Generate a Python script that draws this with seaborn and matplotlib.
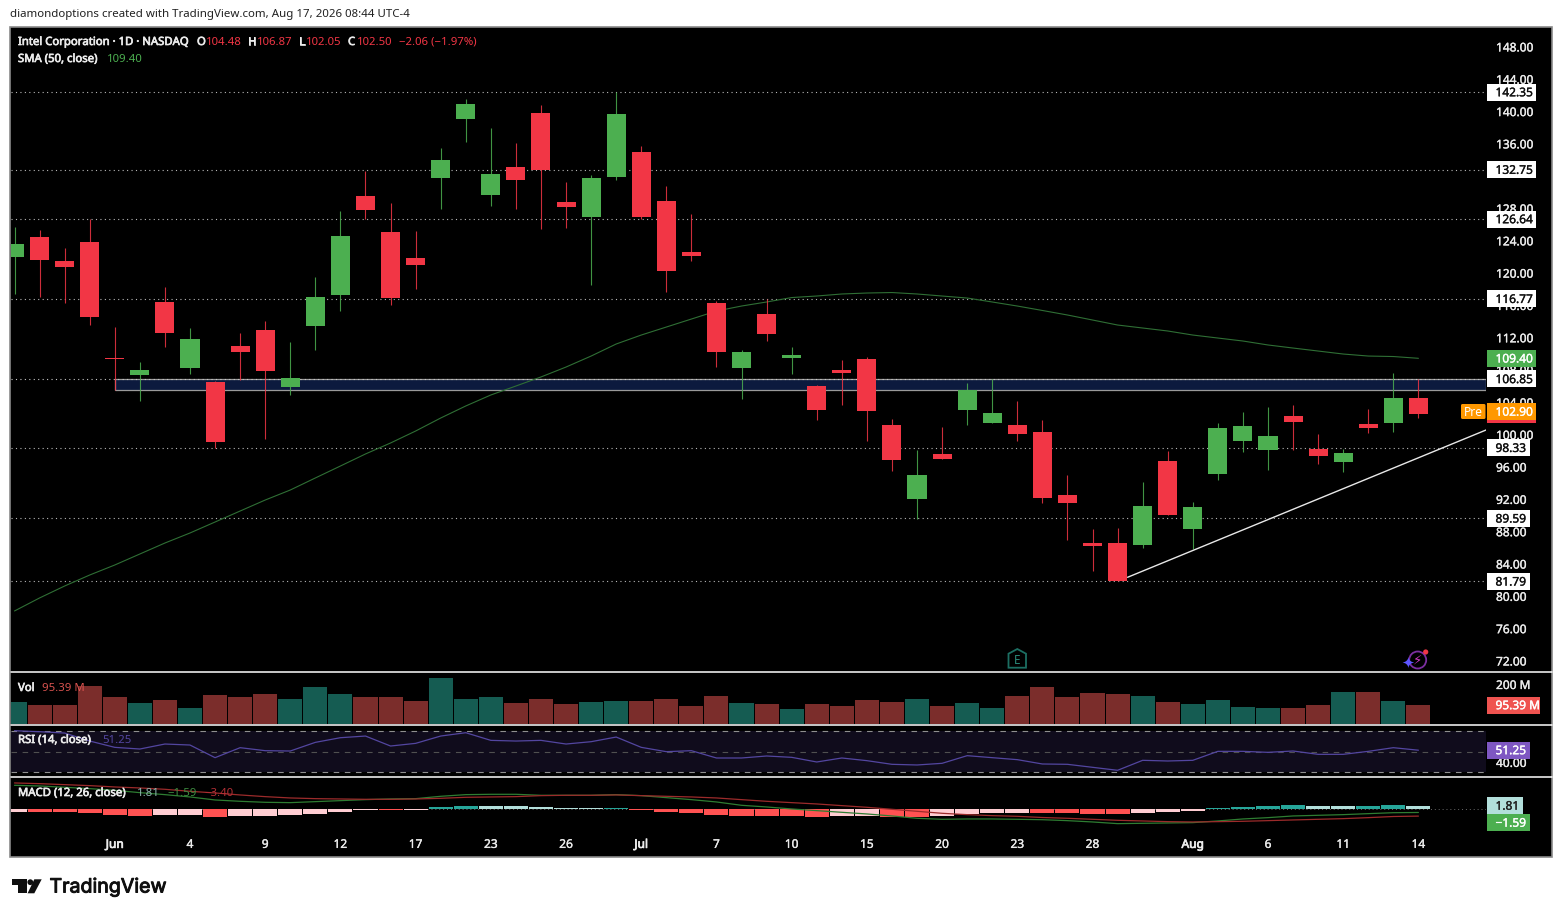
import numpy as np
import pandas as pd
import matplotlib
matplotlib.use('Agg')
import matplotlib.pyplot as plt
import matplotlib.patheffects as pe
from matplotlib.patches import Rectangle, Polygon, Circle, FancyBboxPatch
import seaborn as sns

# Candles, one value per session
opens = [121.97, 124.41, 121.44, 123.79, 109.44, 107.37, 116.37, 108.24, 106.47, 110.89,
         112.90, 105.89, 113.43, 117.27, 129.49, 125.03, 121.81, 131.75, 139.05, 129.65,
         133.04, 139.76, 128.74, 126.92, 131.87, 134.93, 128.87, 122.59, 116.24, 108.24,
         114.88, 109.47, 105.97, 107.95, 109.31, 101.15, 92.02, 97.56, 103.04, 101.43,
         101.15, 100.28, 92.48, 86.54, 86.54, 86.33, 96.69, 88.27, 95.12, 99.20,
         98.09, 102.26, 98.18, 96.60, 101.27, 101.43, 104.48]
closes = [123.55, 121.57, 120.70, 114.55, 109.34, 107.95, 112.57, 111.79, 99.08, 110.22,
          107.87, 106.96, 116.99, 124.54, 127.75, 116.90, 120.98, 133.94, 140.87, 132.21,
          131.47, 132.74, 128.16, 131.71, 139.63, 126.92, 120.24, 122.10, 110.22, 110.18,
          112.45, 109.81, 103.04, 107.58, 102.92, 96.81, 94.96, 96.97, 105.44, 102.63,
          100.03, 92.15, 91.53, 86.17, 81.79, 91.12, 90.04, 91.00, 100.77, 101.02,
          99.78, 101.52, 97.35, 97.68, 100.81, 104.49, 102.50]
highs = [125.61, 125.28, 123.05, 126.60, 113.31, 108.91, 118.19, 113.11, 106.59, 112.49,
         114.02, 111.42, 119.42, 127.59, 132.58, 128.58, 125.15, 135.39, 141.49, 137.87,
         136.01, 140.71, 131.22, 132.05, 142.32, 135.67, 130.72, 127.22, 116.49, 110.39,
         116.74, 110.80, 106.10, 109.19, 109.52, 101.89, 98.05, 100.86, 106.34, 106.80,
         104.12, 101.76, 94.96, 88.24, 88.40, 94.09, 97.93, 91.62, 101.36, 102.75,
         103.37, 103.62, 100.03, 98.21, 103.13, 107.58, 106.87]
lows = [117.36, 116.99, 116.28, 113.56, 105.48, 104.12, 110.84, 107.49, 98.30, 106.68,
        99.45, 104.90, 110.46, 115.29, 126.64, 116.03, 118.01, 127.88, 136.21, 128.29,
        127.88, 125.44, 125.56, 118.51, 131.50, 126.68, 117.64, 121.48, 108.36, 104.36,
        111.58, 107.49, 101.76, 103.66, 99.17, 95.45, 89.51, 96.97, 101.15, 101.43,
        99.17, 91.49, 86.91, 83.08, 81.79, 85.92, 90.04, 85.80, 94.34, 97.84,
        95.61, 98.09, 96.32, 95.37, 100.16, 100.32, 102.05]
sma50 = [78.13, 79.74, 81.22, 82.58, 83.82, 85.18, 86.54, 87.78, 89.14, 90.50,
         91.86, 93.10, 94.59, 96.07, 97.56, 98.92, 100.40, 102.01, 103.50, 104.86,
         105.97, 107.09, 108.32, 109.68, 111.17, 112.28, 113.27, 114.26, 115.25, 115.87,
         116.37, 116.92, 117.11, 117.36, 117.48, 117.54, 117.36, 117.11, 116.86, 116.37,
         115.87, 115.32, 114.76, 114.14, 113.52, 113.15, 112.78, 112.28, 111.91, 111.54,
         111.05, 110.67, 110.30, 109.93, 109.68, 109.62, 109.40]

# Volume in millions
volume = [110, 95, 97, 190, 135, 105, 120, 80, 143, 135,
          150, 125, 183, 150, 135, 135, 115, 228, 123, 135,
          103, 123, 100, 110, 115, 115, 125, 90, 140, 105,
          100, 75, 100, 90, 120, 110, 125, 90, 105, 80,
          140, 185, 135, 153, 148, 138, 108, 98, 122, 83,
          78, 78, 97, 158, 158, 113, 95.39]

rsi = [70, 69.04, 67.76, 60.08, 54, 52.4, 57.2, 56.24, 44.08, 53.68,
       50.8, 50.48, 58.8, 63.28, 64.88, 55.28, 57.84, 64.88, 68.08, 60.72,
       60.08, 60.72, 57.2, 59.44, 63.92, 54, 49.84, 50.8, 43.76, 43.76,
       45.68, 44.4, 39.92, 43.76, 41.2, 37.68, 37.04, 38.64, 46, 44.08,
       42.16, 38, 37.68, 34.8, 31.92, 41.52, 40.88, 41.52, 50.16, 50.16,
       49.2, 50.48, 47.28, 47.28, 50.16, 53.68, 51.25]

macd_line = [12, 11.67, 11, 10.33, 9.5, 8.33, 7.33, 6.17, 4.67, 4,
             3.5, 3.33, 3.83, 4.33, 4.83, 5.17, 5.33, 6.5, 7.33, 7.5,
             7.5, 7, 7, 7, 7.33, 6.83, 5.83, 4.83, 3.67, 2,
             1.17, 0.17, -0.67, -1.5, -2.33, -3.33, -4.5, -5, -4.83, -4.83,
             -5, -5.2, -5.67, -6.33, -7.17, -7, -6.83, -6.67, -5.83, -4.83,
             -4.17, -3.33, -3, -2.67, -2.17, -1.7, -1.59]
macd_signal = [13.17, 12.83, 12.33, 11.83, 11.17, 10.67, 10, 9, 8.17, 7.17,
               6.33, 5.67, 5.33, 5.17, 5, 5, 5.17, 5.5, 6, 6.17,
               6.33, 6.83, 7, 7, 7.17, 6.83, 6.5, 6.17, 5.67, 4.83,
               4, 3.33, 2.67, 1.83, 1, 0, -1, -2, -2.67, -3.17,
               -3.5, -4.1, -4.5, -5, -5.5, -5.83, -6.17, -6.33, -6.17, -6,
               -5.67, -5.33, -5, -4.67, -4.17, -3.6, -3.40]
macd_hist = [-1.33, -1.5, -1.5, -2, -3, -3.5, -3, -3, -4, -3.5,
             -3.5, -3, -2.5, -1.5, -0.5, -0.3, -0.3, 1, 1.5, 1.5,
             1.5, 1, 0.6, 0.6, 0.5, -0.3, -1.5, -2, -3, -3.5,
             -3.5, -3.5, -4, -3.5, -3.5, -4, -4, -3.5, -2.5, -2,
             -2, -2, -2, -2.3, -2.3, -1.8, -1.5, -0.8, 0.8, 1.2,
             1.7, 2.1, 1.7, 1.7, 1.8, 2.1, 1.81]
hist_kind = ['dl', 'ds', 'ds', 'ds', 'ds', 'ds', 'dl', 'dl', 'ds', 'dl',
             'dl', 'dl', 'dl', 'dl', 'dl', 'ds', 'dl', 'us', 'us', 'ul',
             'ul', 'ul', 'ul', 'ul', 'us', 'ds', 'ds', 'ds', 'ds', 'ds',
             'ds', 'ds', 'ds', 'dl', 'dl', 'ds', 'ds', 'dl', 'dl', 'dl',
             'dl', 'ds', 'ds', 'ds', 'ds', 'dl', 'dl', 'dl', 'us', 'us',
             'us', 'us', 'ul', 'ul', 'us', 'us', 'ul']

# Axis labels and drawings on the chart
date_idx = [4, 7, 10, 13, 16, 19, 22, 25, 28, 31, 34, 37, 40, 43, 47, 50, 53, 56]
date_labels = ['Jun', '4', '9', '12', '17', '23', '26', 'Jul', '7', '10', '15', '20', '23', '28', 'Aug', '6', '11', '14']
price_ticks = [148, 144, 140, 136, 128, 124, 120, 116, 112, 108, 104, 100, 96, 92, 88, 84, 80, 76, 72]
levels = [142.35, 132.75, 126.64, 116.77, 98.33, 89.59, 81.79]
zone_top = 106.85
zone_bottom = 105.48
zone_start = 4
trend_x = [44.4, 58.7]
trend_y = [82.3, 100.53]

# Colours
GREEN = '#4caf50'
RED = '#f23645'
TEXT = '#ececec'
FS = 8.6
hist_colors = {'us': '#26a69a', 'ul': '#b2dfdb', 'ds': '#ff5252', 'dl': '#ffcdd2'}
vol_colors = {'up': '#155c52', 'down': '#7b2d2b'}

sns.set_theme(style='dark')
plt.rcParams['font.family'] = ['Noto Sans', 'DejaVu Sans']
plt.rcParams['font.size'] = FS

W, H = 1562, 917
fig = plt.figure(figsize=(W / 100, H / 100), dpi=100, facecolor='white')


def px_axes(left, top, right, bottom):
    return fig.add_axes([left / W, 1 - bottom / H, (right - left) / W, (bottom - top) / H])


def heavier(text, color, width=0.35):
    text.set_path_effects([pe.withStroke(linewidth=width, foreground=color)])


# Black panel behind everything
fig.add_artist(Rectangle((10 / W, 1 - 857 / H), 1542 / W, 830 / H, transform=fig.transFigure,
                         facecolor='black', edgecolor='#8a8a8a', linewidth=1.2, zorder=-5))

idx = np.arange(len(closes))
x_min = (11 - 14.5) / 25.07
x_max = (1486 - 14.5) / 25.07
is_up = np.array(closes) >= np.array(opens)


def style_pane(ax, ymin, ymax, ticks, tick_labels):
    ax.set_facecolor('black')
    ax.patch.set_alpha(0)
    for spine in ax.spines.values():
        spine.set_visible(False)
    ax.set_xlim(x_min, x_max)
    ax.set_ylim(ymin, ymax)
    ax.set_xlabel('')
    ax.set_ylabel('')
    ax.set_xticks([])
    ax.yaxis.tick_right()
    ax.set_yticks(ticks)
    ax.set_yticklabels(tick_labels)
    ax.tick_params(axis='y', length=0, pad=7.2, colors=TEXT, labelsize=FS)
    for label in ax.get_yticklabels():
        heavier(label, TEXT, 0.25)
    ax.grid(False)


# Price pane
ax = px_axes(11, 28, 1486, 671)
for level in levels:
    ax.axhline(level, color='#b8b8b8', linewidth=0.8, linestyle=(0, (1, 3)), zorder=1)
ax.add_patch(Rectangle((zone_start, zone_bottom), x_max - zone_start, zone_top - zone_bottom,
                       facecolor='#0c1a3e', edgecolor='#9a9a9a', linewidth=0.9, zorder=1.2))
ax.hlines(zone_top, x_min, x_max, color='#c8c8c8', linewidth=0.8, linestyle=(0, (1, 3)), zorder=1.3)
sns.lineplot(x=idx, y=sma50, ax=ax, color='#2f6f35', linewidth=0.8, zorder=2)
colors = [GREEN if up else RED for up in is_up]
ax.vlines(idx, lows, highs, colors=colors, linewidth=0.8, alpha=0.85, zorder=3)
ax.bar(idx, np.abs(np.array(closes) - np.array(opens)), bottom=np.minimum(opens, closes),
       width=0.76, color=colors, linewidth=0, zorder=4)
ax.plot(trend_x, trend_y, color='#e8e8e8', linewidth=1, zorder=5)
style_pane(ax, 70.70, 150.28, price_ticks, ['%.2f' % t for t in price_ticks])

# Volume pane
ax_vol = px_axes(11, 674, 1486, 724)
vol_df = pd.DataFrame({'idx': idx, 'volume': volume, 'side': ['up' if up else 'down' for up in is_up]})
sns.barplot(data=vol_df, x='idx', y='volume', hue='side', palette=vol_colors, native_scale=True,
            dodge=False, width=0.96, saturation=1, errorbar=None, legend=False, ax=ax_vol, linewidth=0)
style_pane(ax_vol, 0, 250, [200], ['200 M'])

# RSI pane
ax_rsi = px_axes(11, 725, 1486, 776)
ax_rsi.axhspan(30, 70, color='#100c1c', zorder=0, linewidth=0)
ax_rsi.axhline(70, color='#8f8f8f', linewidth=0.8, linestyle=(0, (5, 5)))
ax_rsi.axhline(50, color='#505050', linewidth=0.8, linestyle=(0, (5, 5)))
ax_rsi.axhline(30, color='#8f8f8f', linewidth=0.8, linestyle=(0, (5, 5)))
sns.lineplot(x=idx, y=rsi, ax=ax_rsi, color='#5346a0', linewidth=0.9)
style_pane(ax_rsi, 26.44, 75.5, [40], ['40.00'])

# MACD pane, zero at y=809.3 and 2 px per unit
ax_macd = px_axes(11, 778, 1486, 833)
macd_df = pd.DataFrame({'idx': idx, 'hist': macd_hist, 'kind': hist_kind})
sns.barplot(data=macd_df, x='idx', y='hist', hue='kind', palette=hist_colors, native_scale=True,
            dodge=False, width=0.96, saturation=1, errorbar=None, legend=False, ax=ax_macd, linewidth=0)
ax_macd.axhline(0, color='#6a6a6a', linewidth=0.7, linestyle=(0, (1, 3)), zorder=0)
sns.lineplot(x=idx, y=macd_line, ax=ax_macd, color='#2e7d32', linewidth=0.9)
sns.lineplot(x=idx, y=macd_signal, ax=ax_macd, color='#9c2b2b', linewidth=0.9)
style_pane(ax_macd, -11.85, 15.65, [0], ['0.00'])
ax_macd.set_xticks(date_idx)
ax_macd.set_xticklabels(date_labels)
ax_macd.tick_params(axis='x', length=0, pad=3.5, colors=TEXT, labelsize=FS)
for label, text in zip(ax_macd.get_xticklabels(), date_labels):
    heavier(label, TEXT, 0.55 if not text.isdigit() else 0.25)

# Everything else goes on a pixel overlay
over = fig.add_axes([0, 0, 1, 1], zorder=10)
over.set_xlim(0, W)
over.set_ylim(H, 0)
over.axis('off')
over.patch.set_alpha(0)

# Pane separators
for sep_y in [672, 724.5, 777]:
    over.plot([11, 1551.5], [sep_y, sep_y], color='white', linewidth=1.1, zorder=1)


def price_y(price):
    return 660.5 - (price - 72) * 8.08


def badge(y, text, bg, fg, left=1487, right=1536, h=17):
    over.add_patch(Rectangle((left, y - h / 2), right - left, h, facecolor=bg, edgecolor='none', zorder=3))
    t = over.text(left + 8.5, y + 0.7, text, color=fg, va='center', ha='left', fontsize=FS, zorder=4)
    heavier(t, fg, 0.25)


for level, right in zip(levels, [1536, 1536, 1536, 1536, 1530, 1530, 1530]):
    badge(price_y(level), '%.2f' % level, 'white', '#111111', right=right)
badge(price_y(106.85), '106.85', 'white', '#111111')
badge(price_y(109.40), '109.40', GREEN, 'white')
over.add_patch(Rectangle((1487, 406), 49, 17, facecolor=RED, edgecolor='none', zorder=3))
badge(411.5, '102.90', '#ff9800', 'white')
over.add_patch(FancyBboxPatch((1461, 404), 24.5, 15, boxstyle='round,pad=0,rounding_size=1.5',
                              facecolor='#ff9800', edgecolor='none', zorder=3))
over.text(1473, 412, 'Pre', color='white', va='center', ha='center', fontsize=FS, zorder=4)
badge(705, '95.39 M', '#ef5350', 'white', right=1540)
badge(750, '51.25', '#7e57c2', 'white', right=1530)
badge(805.5, '1.81', '#b2dfdb', '#222222', right=1523)
badge(822.5, '\u22121.59', GREEN, 'white', right=1530)

# Legend lines and credit
credit = 'diamondoptions created with TradingView.com, Aug 17, 2026 08:44 UTC-4'
over.text(10, 14.5, credit, color='#222222', va='center', ha='left', fontsize=8.27)
legend_parts = [
    (18, 42, 'Intel Corporation \u00b7 1D \u00b7 NASDAQ', TEXT, True),
    (197, 42, 'O', TEXT, True), (206, 42, '104.48', RED, False),
    (248, 42, 'H', TEXT, True), (257, 42, '106.87', RED, False),
    (299, 42, 'L', TEXT, True), (306, 42, '102.05', RED, False),
    (348, 42, 'C', TEXT, True), (357, 42, '102.50', RED, False),
    (399, 42, '\u22122.06 (\u22121.97%)', RED, False),
    (18, 59, 'SMA (50, close)', TEXT, True), (107, 59, '109.40', GREEN, False),
    (18, 688, 'Vol', TEXT, True), (42, 688, '95.39 M', '#d9534f', False),
    (18, 740, 'RSI (14, close)', TEXT, True), (102, 740, '51.25', '#5346a0', False),
    (18, 793, 'MACD (12, 26, close)', TEXT, True), (137, 793, '1.81', '#8fb5b0', False),
    (167, 793, '\u22121.59', '#3e8e41', False), (204, 793, '\u22123.40', '#b32f35', False),
]
for tx, ty, text, color, bold in legend_parts:
    t = over.text(tx, ty + 0.5, text, color=color, va='center', ha='left', fontsize=8.16, zorder=5)
    if bold:
        heavier(t, color, 0.5)

# Earnings marker
over.add_patch(Polygon([(1017.3, 649), (1026, 653.7), (1026, 667.7), (1008.5, 667.7), (1008.5, 653.7)],
                       facecolor='none', edgecolor='#1c6e62', linewidth=1.3, zorder=5))
over.text(1017.3, 660, 'E', color='#2a8a7a', va='center', ha='center', fontsize=8.5, zorder=5)

# Lightning marker
over.add_patch(Circle((1417.7, 660), 8.5, facecolor='none', edgecolor='#7b2fa0', linewidth=1.3, zorder=5))
over.text(1418, 660, '\u26a1', color='#d23bc8', va='center', ha='center', fontsize=9.5,
          family='DejaVu Sans', zorder=6)
over.text(1407.7, 663.3, '\u2726', color='#5d55ff', va='center', ha='center', fontsize=11,
          family='DejaVu Sans', zorder=6)
over.add_patch(Circle((1425.7, 652), 2.6, facecolor='#f23645', edgecolor='none', zorder=7))

# TradingView logo
logo = '#0f0f0f'
over.add_patch(Polygon([(11.7, 879.3), (26.7, 879.3), (26.7, 893.3), (18.3, 893.3), (18.3, 885), (11.7, 885)],
                       facecolor=logo, edgecolor='none'))
over.add_patch(Circle((30.3, 882.2), 2.9, facecolor=logo, edgecolor='none'))
over.add_patch(Polygon([(34.3, 879.3), (41.7, 879.3), (34.3, 893.3), (27.6, 893.3)], facecolor=logo, edgecolor='none'))
wordmark = over.text(49.5, 887.5, 'TradingView', color=logo, va='center', ha='left', fontsize=14.1,
                     family='Inter')
heavier(wordmark, logo, 0.7)

fig.savefig('out.png', dpi=100, facecolor='white')
